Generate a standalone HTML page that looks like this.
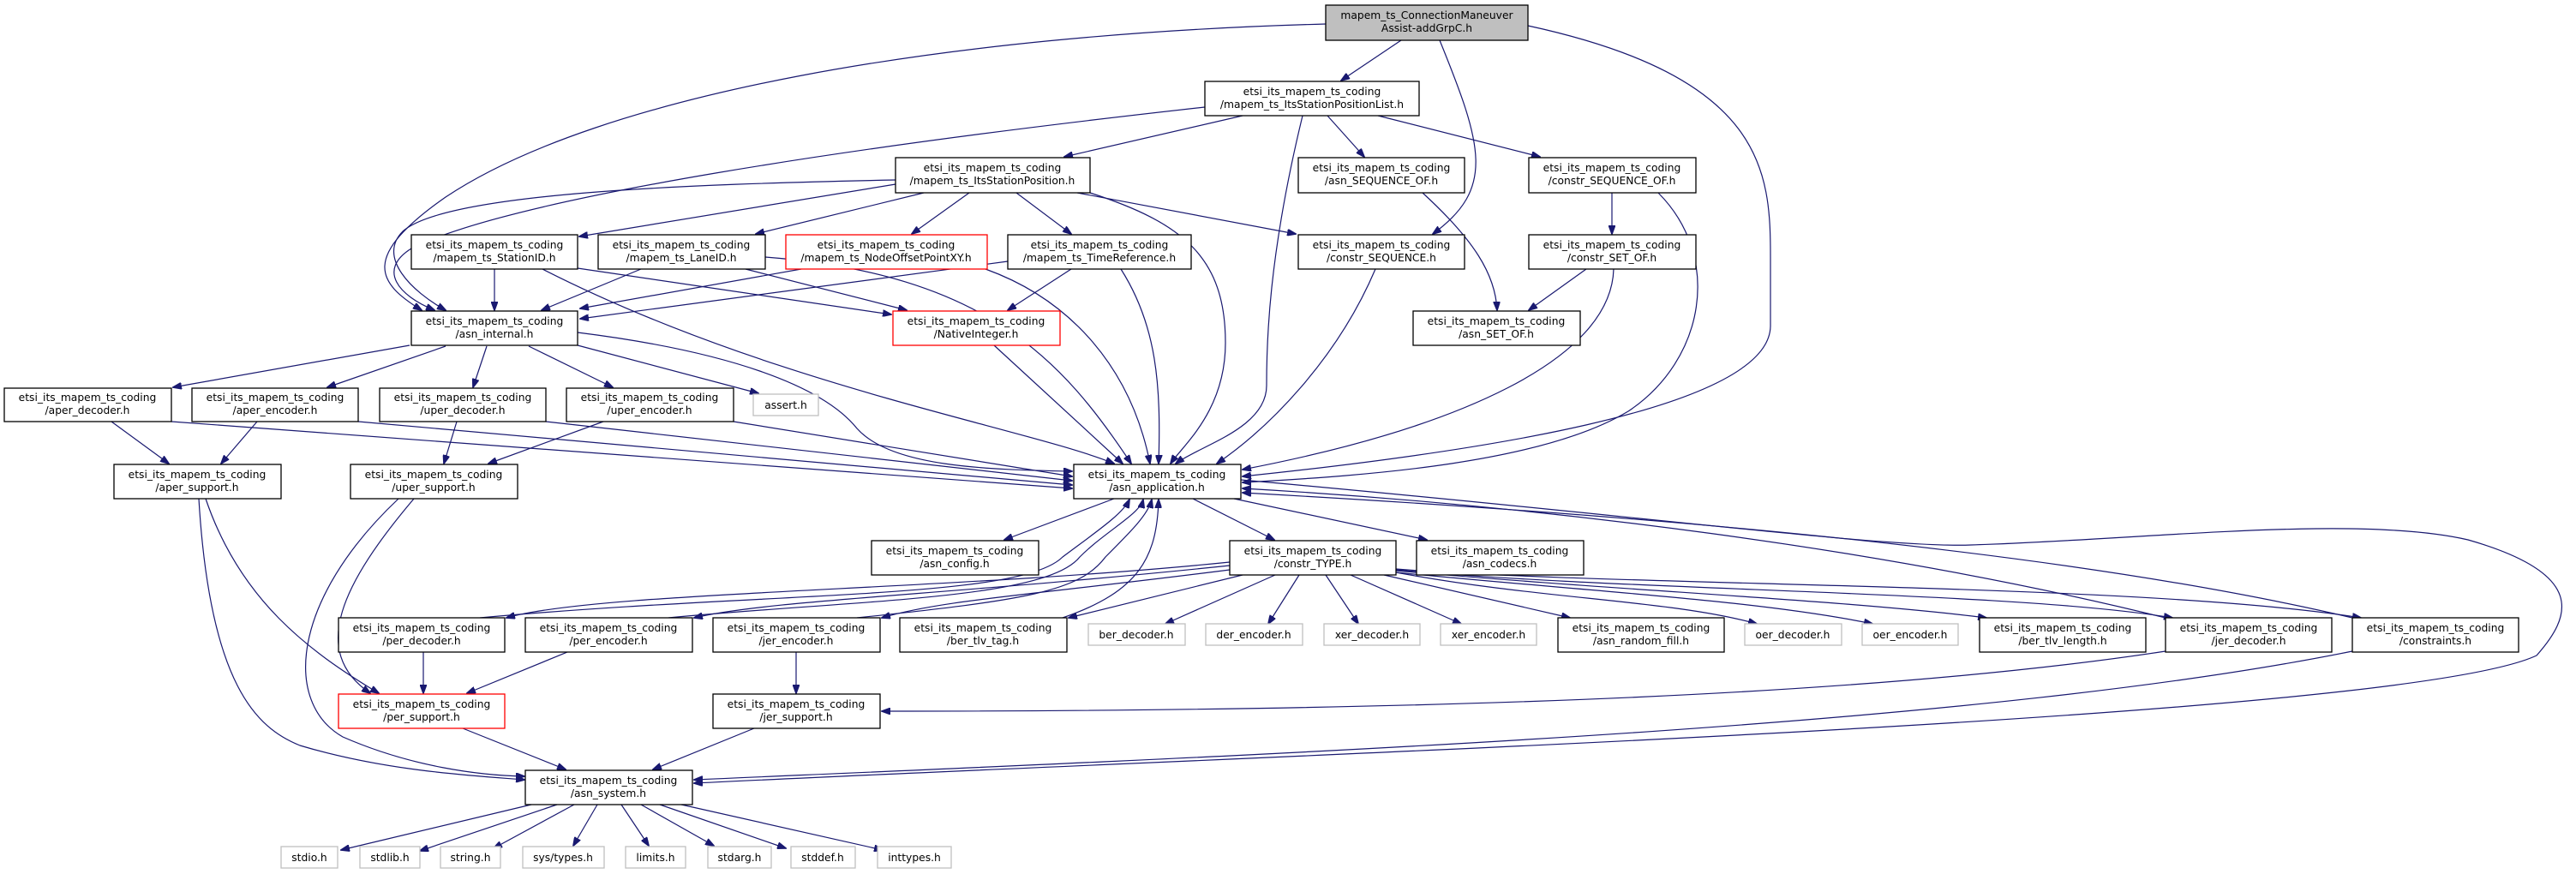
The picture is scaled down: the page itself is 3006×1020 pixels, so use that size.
<!DOCTYPE html>
<html><head><meta charset="utf-8"><style>
html,body{margin:0;padding:0;background:#fff;}
svg{display:block;}
text{font-family:"DejaVu Sans","Liberation Sans",sans-serif;font-size:12.3px;fill:#000;text-anchor:middle;}
.n{fill:#fff;stroke:#000;stroke-width:1.3;}
.g{fill:#fff;stroke:#bfbfbf;stroke-width:1.3;}
.r{fill:#fff;stroke:#ff0000;stroke-width:1.3;}
.e{fill:none;stroke:#191970;stroke-width:1.2;}
</style></head><body>
<svg width="3006" height="1020" viewBox="0 0 3006 1020" xmlns="http://www.w3.org/2000/svg">
<defs><marker id="a" markerWidth="11" markerHeight="8" refX="10" refY="4" orient="auto" markerUnits="userSpaceOnUse"><path d="M0,0 L11,4 L0,8 z" fill="#191970" stroke="#191970"/></marker></defs>
<g marker-end="url(#a)">
<path class="e" d="M1635,47 L1565,94"/>
<path class="e" d="M1680,47 C1730,170 1745,220 1672,273"/>
<path class="e" d="M1547,28 C1100,40 700,110 520,230 C420,300 440,330 492,362"/>
<path class="e" d="M1783,30 C2060,90 2066,200 2066,300 L2066,380 C2066,480 1700,530 1450,556"/>
<path class="e" d="M1450,135 L1242,183"/>
<path class="e" d="M1549,135 L1592,183"/>
<path class="e" d="M1608,135 L1797,183"/>
<path class="e" d="M1406,125 C1000,170 600,230 480,290 C440,315 465,345 507,362"/>
<path class="e" d="M1520,135 C1480,300 1478,400 1478,450 C1478,500 1400,520 1372,541"/>
<path class="e" d="M1045,210 C800,215 520,225 470,270 C440,300 480,340 520,362"/>
<path class="e" d="M1045,215 L676,276"/>
<path class="e" d="M1078,225 L882,273"/>
<path class="e" d="M1131,225 L1064,273"/>
<path class="e" d="M1186,225 L1250,273"/>
<path class="e" d="M1257,225 L1512,273"/>
<path class="e" d="M1272,225 C1380,260 1430,300 1430,400 C1430,480 1380,520 1366,541"/>
<path class="e" d="M577,314 L577,362"/>
<path class="e" d="M674,313 L1040,367"/>
<path class="e" d="M633,314 C900,450 1200,500 1300,541"/>
<path class="e" d="M748,314 L632,362"/>
<path class="e" d="M870,314 L1058,362"/>
<path class="e" d="M893,300 C1150,320 1240,420 1320,541"/>
<path class="e" d="M935,314 L677,360"/>
<path class="e" d="M1150,314 C1250,350 1320,430 1342,541"/>
<path class="e" d="M1176,305 L677,372"/>
<path class="e" d="M1250,314 L1176,362"/>
<path class="e" d="M1308,314 C1350,380 1355,450 1352,541"/>
<path class="e" d="M1605,314 C1560,420 1480,500 1420,541"/>
<path class="e" d="M1660,225 C1720,280 1745,320 1747,362"/>
<path class="e" d="M1881,225 L1881,273"/>
<path class="e" d="M1935,225 C2010,300 1990,420 1900,480 C1800,540 1600,555 1450,563"/>
<path class="e" d="M1851,314 L1784,362"/>
<path class="e" d="M1883,314 C1880,420 1700,500 1450,548"/>
<path class="e" d="M1160,403 L1310,541"/>
<path class="e" d="M478,403 L202,452"/>
<path class="e" d="M520,404 L382,452"/>
<path class="e" d="M568,404 L552,452"/>
<path class="e" d="M617,404 L715,452"/>
<path class="e" d="M674,403 L885,459"/>
<path class="e" d="M674,388 C850,410 960,450 1000,500 C1040,545 1150,548 1251,550"/>
<path class="e" d="M130,492 L197,541"/>
<path class="e" d="M200,492 L1251,570"/>
<path class="e" d="M300,492 L258,541"/>
<path class="e" d="M418,492 L1251,566"/>
<path class="e" d="M533,492 L518,541"/>
<path class="e" d="M637,492 L1251,561"/>
<path class="e" d="M704,492 L570,541"/>
<path class="e" d="M856,492 L1251,556"/>
<path class="e" d="M240,582 C280,700 360,760 442,809"/>
<path class="e" d="M232,582 C245,800 300,850 350,870 C450,900 550,905 612,910"/>
<path class="e" d="M483,582 C400,680 360,760 432,809"/>
<path class="e" d="M465,582 C340,700 330,820 400,860 C480,895 560,905 612,906"/>
<path class="e" d="M1300,582 L1172,630"/>
<path class="e" d="M1392,582 L1487,630"/>
<path class="e" d="M1440,582 L1665,630"/>
<path class="e" d="M1448,560 C1900,600 2200,640 2300,636 C2500,630 2750,600 2880,630 C3020,670 3000,720 2960,765 C2800,840 1500,880 810,914"/>
<path class="e" d="M2527,721 C2200,640 1800,590 1450,570"/>
<path class="e" d="M2745,721 C2400,640 1900,600 1450,575"/>
<path class="e" d="M1435,656 C1100,690 700,690 591,721"/>
<path class="e" d="M1435,660 C1100,695 900,700 810,721"/>
<path class="e" d="M1435,665 C1200,695 1100,700 1029,721"/>
<path class="e" d="M1450,671 L1247,721"/>
<path class="e" d="M1488,671 L1360,728"/>
<path class="e" d="M1516,671 L1480,728"/>
<path class="e" d="M1547,671 L1585,728"/>
<path class="e" d="M1576,671 L1705,728"/>
<path class="e" d="M1615,671 L1832,721"/>
<path class="e" d="M1629,668 C1800,700 1950,700 2050,728"/>
<path class="e" d="M1629,668 C1850,690 2050,700 2185,728"/>
<path class="e" d="M1629,666 C1900,690 2150,700 2318,721"/>
<path class="e" d="M1629,665 C1900,690 2350,690 2535,721"/>
<path class="e" d="M1629,664 C1900,685 2500,680 2755,721"/>
<path class="e" d="M560,721 C900,690 1190,700 1240,650 C1280,620 1310,600 1318,583"/>
<path class="e" d="M780,721 C1000,700 1220,700 1260,650 C1290,620 1330,600 1334,583"/>
<path class="e" d="M1000,721 C1200,700 1260,690 1290,650 C1320,620 1340,600 1344,583"/>
<path class="e" d="M1240,721 C1330,690 1350,650 1352,583"/>
<path class="e" d="M494,761 L494,809"/>
<path class="e" d="M662,761 L545,809"/>
<path class="e" d="M929,761 L929,809"/>
<path class="e" d="M2527,760 C2200,810 1700,830 1029,830"/>
<path class="e" d="M2745,760 C2300,850 1500,880 810,910"/>
<path class="e" d="M540,850 L660,898"/>
<path class="e" d="M880,850 L762,898"/>
<path class="e" d="M620,939 L398,992"/>
<path class="e" d="M650,939 L490,993"/>
<path class="e" d="M670,939 L576,990"/>
<path class="e" d="M697,939 L669,987"/>
<path class="e" d="M725,939 L757,987"/>
<path class="e" d="M748,939 L833,987"/>
<path class="e" d="M770,939 L917,990"/>
<path class="e" d="M795,939 L1030,992"/>
</g>
<rect x="1547" y="6" width="236" height="41" fill="#bfbfbf" stroke="#000" stroke-width="1.3"/>
<text x="1665" y="22">mapem_ts_ConnectionManeuver</text><text x="1665" y="37">Assist-addGrpC.h</text>
<rect class="n" x="1406" y="95" width="250" height="40"/><text x="1531" y="111">etsi_its_mapem_ts_coding</text><text x="1531" y="126">/mapem_ts_ItsStationPositionList.h</text>
<rect class="n" x="1045" y="184" width="227" height="41"/><text x="1158" y="200">etsi_its_mapem_ts_coding</text><text x="1158" y="215">/mapem_ts_ItsStationPosition.h</text>
<rect class="n" x="1515" y="184" width="194" height="41"/><text x="1612" y="200">etsi_its_mapem_ts_coding</text><text x="1612" y="215">/asn_SEQUENCE_OF.h</text>
<rect class="n" x="1784" y="184" width="195" height="41"/><text x="1881" y="200">etsi_its_mapem_ts_coding</text><text x="1881" y="215">/constr_SEQUENCE_OF.h</text>
<rect class="n" x="480" y="274" width="194" height="40"/><text x="577" y="290">etsi_its_mapem_ts_coding</text><text x="577" y="305">/mapem_ts_StationID.h</text>
<rect class="n" x="698" y="274" width="195" height="40"/><text x="795" y="290">etsi_its_mapem_ts_coding</text><text x="795" y="305">/mapem_ts_LaneID.h</text>
<rect class="r" x="917" y="274" width="235" height="40"/><text x="1034" y="290">etsi_its_mapem_ts_coding</text><text x="1034" y="305">/mapem_ts_NodeOffsetPointXY.h</text>
<rect class="n" x="1176" y="274" width="214" height="40"/><text x="1283" y="290">etsi_its_mapem_ts_coding</text><text x="1283" y="305">/mapem_ts_TimeReference.h</text>
<rect class="n" x="1515" y="274" width="194" height="40"/><text x="1612" y="290">etsi_its_mapem_ts_coding</text><text x="1612" y="305">/constr_SEQUENCE.h</text>
<rect class="n" x="1784" y="274" width="195" height="40"/><text x="1881" y="290">etsi_its_mapem_ts_coding</text><text x="1881" y="305">/constr_SET_OF.h</text>
<rect class="n" x="480" y="363" width="194" height="40"/><text x="577" y="379">etsi_its_mapem_ts_coding</text><text x="577" y="394">/asn_internal.h</text>
<rect class="r" x="1042" y="363" width="195" height="40"/><text x="1139" y="379">etsi_its_mapem_ts_coding</text><text x="1139" y="394">/NativeInteger.h</text>
<rect class="n" x="1649" y="363" width="195" height="40"/><text x="1746" y="379">etsi_its_mapem_ts_coding</text><text x="1746" y="394">/asn_SET_OF.h</text>
<rect class="n" x="5" y="453" width="195" height="39"/><text x="102" y="468">etsi_its_mapem_ts_coding</text><text x="102" y="483">/aper_decoder.h</text>
<rect class="n" x="224" y="453" width="194" height="39"/><text x="321" y="468">etsi_its_mapem_ts_coding</text><text x="321" y="483">/aper_encoder.h</text>
<rect class="n" x="443" y="453" width="194" height="39"/><text x="540" y="468">etsi_its_mapem_ts_coding</text><text x="540" y="483">/uper_decoder.h</text>
<rect class="n" x="661" y="453" width="195" height="39"/><text x="758" y="468">etsi_its_mapem_ts_coding</text><text x="758" y="483">/uper_encoder.h</text>
<rect class="g" x="879" y="460" width="76" height="25"/><text x="917" y="477">assert.h</text>
<rect class="n" x="133" y="542" width="195" height="40"/><text x="230" y="558">etsi_its_mapem_ts_coding</text><text x="230" y="573">/aper_support.h</text>
<rect class="n" x="409" y="542" width="195" height="40"/><text x="506" y="558">etsi_its_mapem_ts_coding</text><text x="506" y="573">/uper_support.h</text>
<rect class="n" x="1253" y="542" width="195" height="40"/><text x="1350" y="558">etsi_its_mapem_ts_coding</text><text x="1350" y="573">/asn_application.h</text>
<rect class="n" x="1017" y="631" width="195" height="40"/><text x="1114" y="647">etsi_its_mapem_ts_coding</text><text x="1114" y="662">/asn_config.h</text>
<rect class="n" x="1435" y="631" width="194" height="40"/><text x="1532" y="647">etsi_its_mapem_ts_coding</text><text x="1532" y="662">/constr_TYPE.h</text>
<rect class="n" x="1653" y="631" width="195" height="40"/><text x="1750" y="647">etsi_its_mapem_ts_coding</text><text x="1750" y="662">/asn_codecs.h</text>
<rect class="n" x="395" y="721" width="194" height="40"/><text x="492" y="737">etsi_its_mapem_ts_coding</text><text x="492" y="752">/per_decoder.h</text>
<rect class="n" x="613" y="721" width="195" height="40"/><text x="710" y="737">etsi_its_mapem_ts_coding</text><text x="710" y="752">/per_encoder.h</text>
<rect class="n" x="832" y="721" width="195" height="40"/><text x="929" y="737">etsi_its_mapem_ts_coding</text><text x="929" y="752">/jer_encoder.h</text>
<rect class="n" x="1050" y="721" width="195" height="40"/><text x="1147" y="737">etsi_its_mapem_ts_coding</text><text x="1147" y="752">/ber_tlv_tag.h</text>
<rect class="g" x="1270" y="728" width="113" height="25"/><text x="1326" y="745">ber_decoder.h</text>
<rect class="g" x="1407" y="728" width="113" height="25"/><text x="1463" y="745">der_encoder.h</text>
<rect class="g" x="1545" y="728" width="112" height="25"/><text x="1601" y="745">xer_decoder.h</text>
<rect class="g" x="1681" y="728" width="112" height="25"/><text x="1737" y="745">xer_encoder.h</text>
<rect class="n" x="1818" y="721" width="194" height="40"/><text x="1915" y="737">etsi_its_mapem_ts_coding</text><text x="1915" y="752">/asn_random_fill.h</text>
<rect class="g" x="2036" y="728" width="113" height="25"/><text x="2092" y="745">oer_decoder.h</text>
<rect class="g" x="2173" y="728" width="112" height="25"/><text x="2229" y="745">oer_encoder.h</text>
<rect class="n" x="2310" y="721" width="194" height="40"/><text x="2407" y="737">etsi_its_mapem_ts_coding</text><text x="2407" y="752">/ber_tlv_length.h</text>
<rect class="n" x="2527" y="721" width="194" height="40"/><text x="2624" y="737">etsi_its_mapem_ts_coding</text><text x="2624" y="752">/jer_decoder.h</text>
<rect class="n" x="2745" y="721" width="194" height="40"/><text x="2842" y="737">etsi_its_mapem_ts_coding</text><text x="2842" y="752">/constraints.h</text>
<rect class="r" x="395" y="810" width="194" height="40"/><text x="492" y="826">etsi_its_mapem_ts_coding</text><text x="492" y="841">/per_support.h</text>
<rect class="n" x="832" y="810" width="195" height="40"/><text x="929" y="826">etsi_its_mapem_ts_coding</text><text x="929" y="841">/jer_support.h</text>
<rect class="n" x="613" y="899" width="195" height="40"/><text x="710" y="915">etsi_its_mapem_ts_coding</text><text x="710" y="930">/asn_system.h</text>
<rect class="g" x="328" y="988" width="66" height="25"/><text x="361" y="1005">stdio.h</text>
<rect class="g" x="420" y="988" width="70" height="25"/><text x="455" y="1005">stdlib.h</text>
<rect class="g" x="514" y="988" width="70" height="25"/><text x="549" y="1005">string.h</text>
<rect class="g" x="610" y="988" width="95" height="25"/><text x="657" y="1005">sys/types.h</text>
<rect class="g" x="730" y="988" width="70" height="25"/><text x="765" y="1005">limits.h</text>
<rect class="g" x="826" y="988" width="74" height="25"/><text x="863" y="1005">stdarg.h</text>
<rect class="g" x="923" y="988" width="75" height="25"/><text x="960" y="1005">stddef.h</text>
<rect class="g" x="1024" y="988" width="86" height="25"/><text x="1067" y="1005">inttypes.h</text>
</svg>
</body></html>
